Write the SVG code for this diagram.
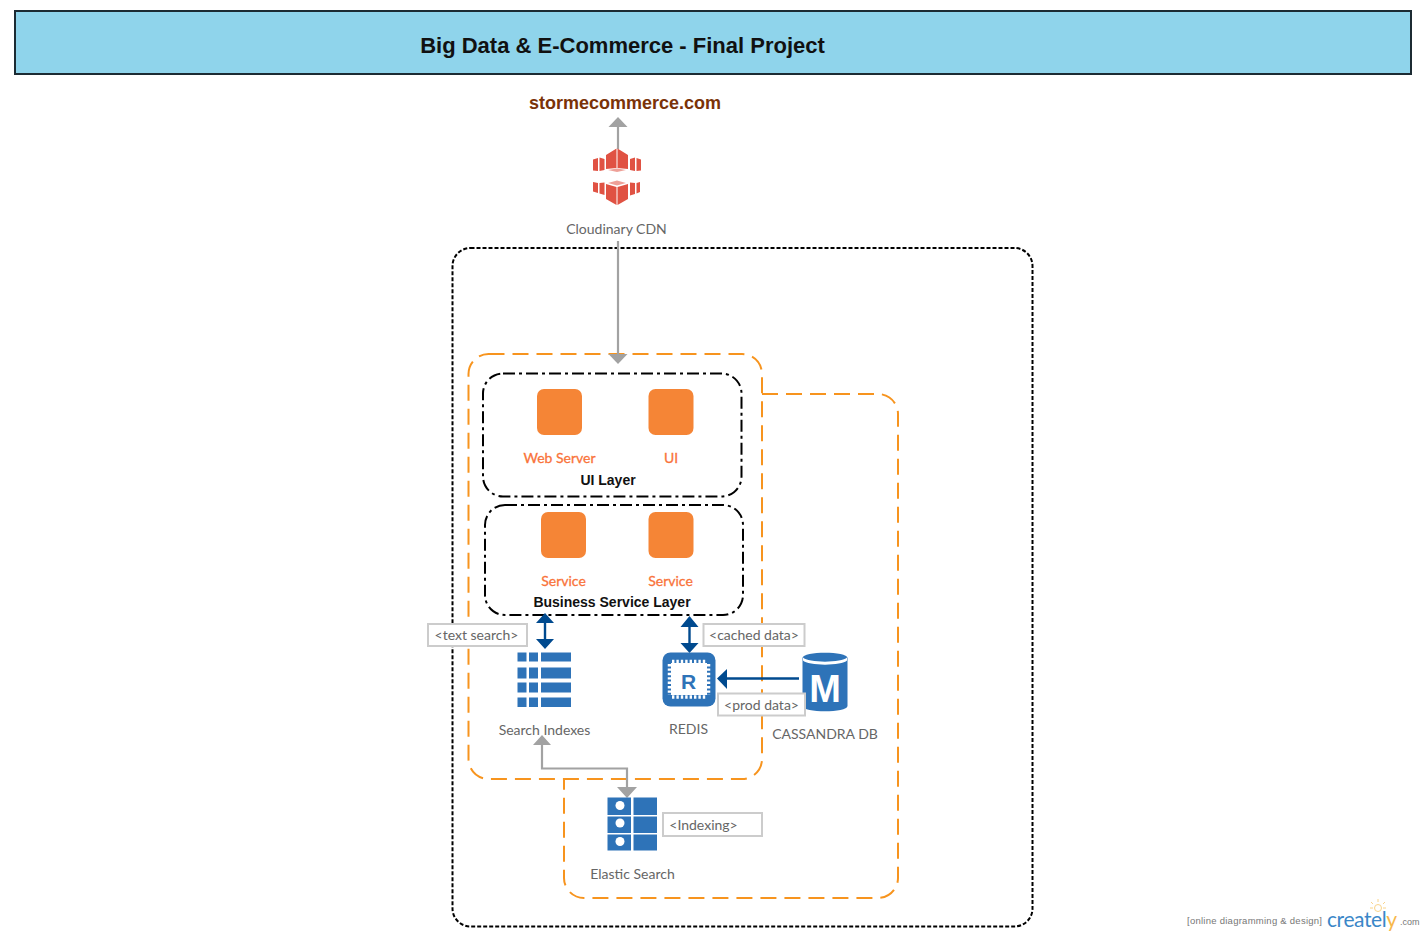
<svg xmlns="http://www.w3.org/2000/svg" width="1425" height="936" viewBox="0 0 1425 936">
<style>
.lbl{font-family:Lato,"Liberation Sans",sans-serif;font-size:14px;fill:#666;text-anchor:middle}
.org{font-family:Lato,"Liberation Sans",sans-serif;font-size:14px;fill:#f9733a;stroke:#f9733a;stroke-width:.3px;text-anchor:middle}
.bold{font-family:"Liberation Sans",Arial,sans-serif;font-weight:bold;font-size:14px;fill:#111;text-anchor:middle}
.tag{fill:#fff;stroke:#ccc;stroke-width:2}
.sq{fill:#f58536}
.gr{fill:none;stroke:#a2a2a2;stroke-width:2.2}
.bl{fill:none;stroke:#004a8f;stroke-width:2.4}
.blh{fill:#004a8f}
.grh{fill:#a2a2a2}
.ib{fill:#2e73b8}
.od{fill:none;stroke:#f7941e;stroke-width:2;stroke-dasharray:16 8}
.ld{fill:none;stroke:#000;stroke-width:2;stroke-dasharray:12 4 3 4}
.rd{fill:#e05243}
</style>
<rect width="1425" height="936" fill="#fff"/>
<g id="title"><rect x="15" y="11" width="1396" height="63" fill="#8fd4eb" stroke="#1c2b33" stroke-width="2"/>
<text x="622.500" y="53" font-family="Liberation Sans,Arial,sans-serif" font-weight="bold" font-size="22" fill="#111" text-anchor="middle">Big Data &amp; E-Commerce - Final Project</text></g>
<g id="site"><text x="625" y="109" font-family="Liberation Sans,Arial,sans-serif" font-weight="bold" font-size="18" fill="#7a3208" text-anchor="middle">stormecommerce.com</text></g>
<g id="container-outer"><rect x="452.500" y="248" width="580" height="678.500" rx="18" fill="none" stroke="#000" stroke-width="2" stroke-dasharray="4 2"/></g>
<g id="container-app"><rect x="468.500" y="354" width="293.500" height="425" rx="20" class="od"/></g>
<g id="container-data"><path class="od" d="M762 394H878a20 20 0 0 1 20 20V878a20 20 0 0 1-20 20H584a20 20 0 0 1-20-20V779"/></g>
<g id="ui-layer"><rect x="483" y="373.500" width="258.500" height="123" rx="20" class="ld"/><text class="bold" x="608" y="485">UI Layer</text></g>
<g id="business-layer"><rect x="485" y="505" width="258" height="110" rx="20" class="ld"/><text class="bold" x="612" y="607">Business Service Layer</text></g>
<g id="connectors">
<path class="gr" d="M618 126V149"/><path class="grh" d="M608.500 127L618 117L627.500 127Z"/>
<path class="gr" d="M618 241V354"/><path class="grh" d="M608.500 354H627.500L618 364Z"/>
<path class="bl" d="M545 622V642"/><path class="blh" d="M536 623L545 613L554 623ZM536 639H554L545 649Z"/>
<path class="bl" d="M689.500 625V645"/><path class="blh" d="M680.500 627L689.500 616L698.500 627ZM680.500 643H698.500L689.500 653Z"/>
<path class="bl" d="M725 678.500H799"/><path class="blh" d="M727 669V689L717 678.500Z"/>
<path class="gr" d="M542 744V768.500H627V787"/><path class="grh" d="M533 745L542 735L551 745ZM617 787H637L627 798Z"/>
</g>
<g id="cdn"><path class="rd" d="M606 155L616.500 148.500V168L606 169ZM617.500 148.500L628 155V169L617.500 168ZM593 159.500L598 158V171L593 170.500ZM599.500 157.500L604.500 159V170L599.500 171ZM630 159L635 157.500V171L630 170ZM636.500 158L641 159.500V170.500L636.500 171ZM593 182L598 183V193L593 191.500ZM599.500 183L604.500 182.500V195L599.500 193.500ZM606 184L616.500 187V205L606 199ZM617.500 187L628 184V199L617.500 205ZM630 182.500L635 183V194L630 195.500ZM636.500 183L640 182V192L636.500 193.500Z"/><path class="rd" d="M608 170L617 168.500L626 170L617 172ZM608 183L617 180.500L626 183L617 185.500Z" opacity=".55"/><text class="lbl" x="616.500" y="234">Cloudinary CDN</text></g>
<g id="web-server"><rect class="sq" x="537" y="389" width="45" height="46" rx="7"/><text class="org" x="559.500" y="463">Web Server</text></g>
<g id="ui"><rect class="sq" x="648.500" y="389" width="45" height="46" rx="7"/><text class="org" x="671" y="463">UI</text></g>
<g id="service-1"><rect class="sq" x="541" y="512" width="45" height="46" rx="7"/><text class="org" x="563.500" y="586">Service</text></g>
<g id="service-2"><rect class="sq" x="648.500" y="512" width="45" height="46" rx="7"/><text class="org" x="670.500" y="586">Service</text></g>
<g id="search-indexes"><path class="ib" d="M517.500 652.500h9v9h-9zM529 652.500h9v9h-9zM541 652.500h30v9h-30zM517.500 667.500h9v11h-9zM529 667.500h9v11h-9zM541 667.500h30v11h-30zM517.500 682.500h9v10h-9zM529 682.500h9v10h-9zM541 682.500h30v10h-30zM517.500 697.500h9v9.500h-9zM529 697.500h9v9.500h-9zM541 697.500h30v9.500h-30z"/><text class="lbl" x="544.500" y="735">Search Indexes</text></g>
<g id="tag-text-search"><rect class="tag" x="428" y="624" width="99" height="22"/><text class="lbl" x="476.500" y="640">&lt;text search&gt;</text></g>
<g id="redis"><rect class="ib" x="662.500" y="652.500" width="53" height="54" rx="8"/>
<path fill="#fff" d="M671 663h36v32h-36z"/>
<path stroke="#fff" stroke-width="3.500" stroke-dasharray="2.400 2" fill="none" d="M669.500 664V695M708.500 664V695M672 661.500H707M672 697H707"/>
<text x="688.500" y="688.500" font-family="Liberation Sans,Arial,sans-serif" font-weight="bold" font-size="21" fill="#2e73b8" text-anchor="middle">R</text>
<text class="lbl" x="688.500" y="734">REDIS</text></g>
<g id="tag-cached"><rect class="tag" x="703.500" y="624" width="101" height="22"/><text class="lbl" x="754" y="640">&lt;cached data&gt;</text></g>
<g id="cassandra"><path class="ib" d="M802.500 658c0-7 45-7 45 0v48c0 7-45 7-45 0z"/><path fill="#fff" d="M803 657.500c5 5.500 39 5.500 44 0v3c-5 5.500-39 5.500-44 0z"/><text x="825" y="702" font-family="Liberation Sans,Arial,sans-serif" font-weight="bold" font-size="38" fill="#fff" text-anchor="middle">M</text><text class="lbl" x="825" y="739">CASSANDRA DB</text></g>
<g id="tag-prod"><rect class="tag" x="718" y="693.500" width="87" height="22"/><text class="lbl" x="761.500" y="710">&lt;prod data&gt;</text></g>
<g id="elastic"><path class="ib" d="M607.500 797.500h23.500v17.500h-23.500zM633.500 797.500h23.500v17.500h-23.500zM607.500 816.500h23.500v16.500h-23.500zM633.500 816.500h23.500v16.500h-23.500zM607.500 834.500h23.500v16h-23.500zM633.500 834.500h23.500v16h-23.500z"/><circle cx="620" cy="805.500" r="4.500" fill="#fff"/><circle cx="620" cy="823" r="4.500" fill="#fff"/><circle cx="620" cy="841.500" r="4.500" fill="#fff"/><text class="lbl" x="632.500" y="879">Elastic Search</text></g>
<g id="tag-indexing"><rect class="tag" x="663" y="813" width="99" height="23"/><text class="lbl" x="703.500" y="830">&lt;Indexing&gt;</text></g>
<g id="watermark"><text x="1187" y="924" font-family="Liberation Sans,Arial,sans-serif" font-size="9.500" fill="#777" textLength="135">[online diagramming &amp; design]</text>
<text x="1327" y="927" font-family="Lato,'Liberation Sans',sans-serif" font-size="21" fill="#3b87c8" textLength="70">createl<tspan fill="#f7b84a">y</tspan></text>
<text x="1400" y="925" font-family="Liberation Sans,Arial,sans-serif" font-size="9" fill="#777">.com</text>
<path d="M1378 899v3M1371 902l2 2M1385 902l-2 2M1370 908h3M1383 908h3" stroke="#f9d48a" fill="none"/><circle cx="1378" cy="908" r="3.500" fill="none" stroke="#f9d48a"/></g>
</svg>
